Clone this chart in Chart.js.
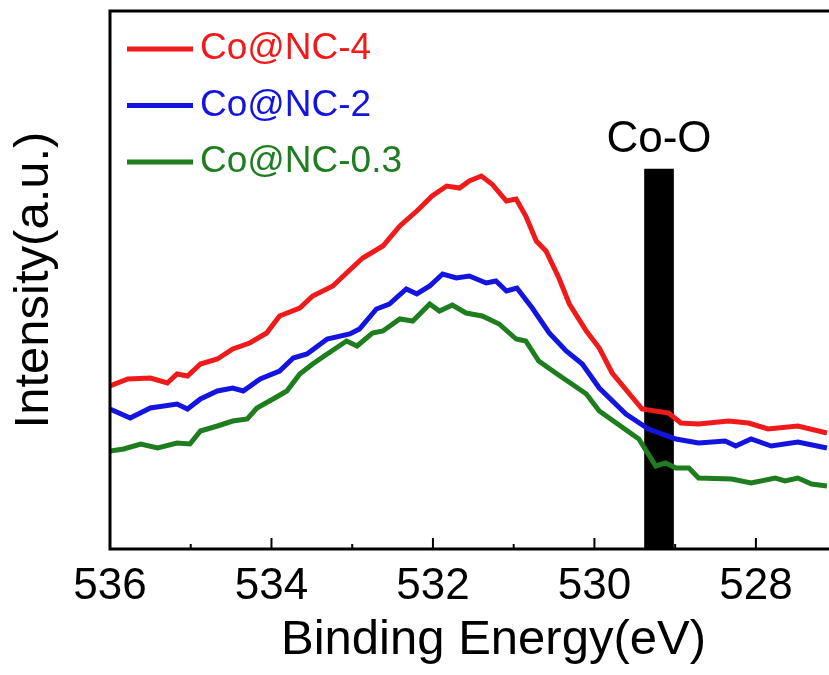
<!DOCTYPE html>
<html>
<head>
<meta charset="utf-8">
<script src="https://cdn.jsdelivr.net/npm/chart.js@4.4.0/dist/chart.umd.min.js"></script>
<style>
  html, body { margin: 0; padding: 0; background: #fff; overflow: hidden; }
  #wrap { width: 829px; height: 675px; overflow: hidden; }
</style>
</head>
<body>
<div id="wrap"><canvas id="xpsChart" width="880" height="675"></canvas></div>
<script>
var seriesNames = ["Co@NC-4", "Co@NC-2", "Co@NC-0.3"];
var seriesColors = ["#f01a1a", "#1414e0", "#1e7d1e"];

// binding energy (eV) / intensity (a.u.)
var energyNC4 = [536.00,535.78,535.50,535.29,535.17,535.04,534.88,534.67,534.48,534.27,534.06,533.90,533.65,533.49,533.24,533.07,532.87,532.62,532.41,532.20,532.01,531.83,531.67,531.55,531.40,531.27,531.09,530.97,530.85,530.72,530.60,530.44,530.31,530.10,529.94,529.78,529.41,529.08,528.93,528.71,528.34,528.09,527.85,527.48,527.12];
var intensityNC4 = [163,170,171,166,175,173,185,190,200,206,216,233,241,253,263,276,291,303,323,338,353,363,361,368,373,365,348,350,333,308,298,271,245,218,201,176,140,136,126,125,128,126,120,123,116];

var energyNC2 = [536.00,535.75,535.50,535.17,535.04,534.88,534.67,534.48,534.35,534.14,533.90,533.73,533.56,533.31,533.03,532.91,532.70,532.54,532.33,532.20,532.04,531.88,531.71,531.55,531.34,531.22,531.09,530.96,530.77,530.56,530.35,530.15,529.94,529.61,529.33,528.99,528.71,528.38,528.25,528.06,527.81,527.48,527.12];
var intensityNC2 = [140,131,141,145,140,150,158,161,158,170,178,191,195,210,215,220,240,245,260,255,263,275,271,273,266,268,258,261,241,216,198,185,161,135,120,110,106,108,103,110,103,107,101];

var energyNC03 = [536.00,535.83,535.62,535.41,535.17,535.01,534.88,534.67,534.48,534.30,534.18,533.98,533.81,533.65,533.49,533.31,533.07,532.94,532.75,532.62,532.41,532.25,532.04,531.92,531.76,531.59,531.39,531.18,530.97,530.85,530.69,530.48,530.28,530.10,529.94,529.45,529.24,529.12,528.99,528.83,528.71,528.30,528.06,527.76,527.64,527.48,527.31,527.12];
var intensityNC03 = [98,100,105,101,106,105,118,123,128,130,141,150,158,175,185,195,208,203,216,218,230,228,245,238,244,236,233,225,210,208,188,176,165,155,138,110,83,86,81,81,71,70,66,71,68,71,65,63];

var xTickValues = [536, 534, 532, 530, 528];
var markerLabel = "Co-O";
var markerEnergy = 529.2;
var markerHeight = 380;

var font = "'Liberation Sans', Arial, sans-serif";

function toPoints(xs, ys) {
  return xs.map(function(x, i) { return { x: x, y: ys[i] }; });
}

function lineDataset(i, xs, ys) {
  return {
    type: "line",
    label: seriesNames[i],
    data: toPoints(xs, ys),
    borderColor: seriesColors[i],
    borderWidth: 5,
    pointRadius: 0,
    tension: 0,
    fill: false,
    order: 1
  };
}

// frame, inward ticks, legend and marker label
var decorations = {
  id: "decorations",
  afterDraw: function(chart) {
    var ctx = chart.ctx
      , area = chart.chartArea
      , xScale = chart.scales.x

    ctx.save();
    ctx.strokeStyle = "#000";
    ctx.lineWidth = 3;
    ctx.strokeRect(area.left, area.top, area.right - area.left, area.bottom - area.top);

    for (var v = 527; v <= 536; v++) {
      var px = xScale.getPixelForValue(v);
      var len = (v % 2 === 0) ? 11 : 5;
      ctx.beginPath();
      ctx.lineWidth = 2;
      ctx.moveTo(px, area.bottom);
      ctx.lineTo(px, area.bottom - len);
      ctx.stroke();
    }

    chart.data.datasets.forEach(function(ds, i) {
      if (ds.type !== "line") return;
      var y = 49 + i * 56.5;
      ctx.beginPath();
      ctx.strokeStyle = ds.borderColor;
      ctx.lineWidth = 5;
      ctx.moveTo(127, y);
      ctx.lineTo(193, y);
      ctx.stroke();
      ctx.fillStyle = ds.borderColor;
      ctx.font = "37px " + font;
      ctx.textAlign = "left";
      ctx.textBaseline = "alphabetic";
      ctx.fillText(ds.label, 200, y + 10);
    });

    var bar = chart.getDatasetMeta(3).data[0];
    ctx.fillStyle = "#000";
    ctx.font = "44px " + font;
    ctx.textAlign = "center";
    ctx.textBaseline = "alphabetic";
    ctx.fillText(chart.data.datasets[3].label, bar.x, bar.y - 17);
    ctx.restore();
  }
};

var ctx = document.getElementById("xpsChart");
var xpsChart = new Chart(ctx, {
  data: {
    datasets: [
      lineDataset(0, energyNC4, intensityNC4),
      lineDataset(1, energyNC2, intensityNC2),
      lineDataset(2, energyNC03, intensityNC03),
      {
        type: "bar",
        label: markerLabel,
        data: [{ x: markerEnergy, y: markerHeight }],
        backgroundColor: "#000",
        barThickness: 29,
        grouped: false,
        order: 10
      }
    ]
  },
  options: {
    responsive: false,
    animation: false,
    devicePixelRatio: 1,
    layout: { padding: { top: 11, left: 0, right: 0, bottom: 0 } },
    plugins: {
      legend: { display: false },
      tooltip: { enabled: false }
    },
    scales: {
      x: {
        type: "linear",
        reverse: true,
        offset: false,
        min: 526.5,
        max: 536,
        grid: { display: false, offset: false },
        border: { display: false },
        ticks: {
          stepSize: 1,
          autoSkip: false,
          maxRotation: 0,
          padding: 3,
          color: "#000",
          font: { family: font, size: 44 },
          callback: function(value) {
            return xTickValues.indexOf(value) >= 0 ? String(value) : "";
          }
        },
        title: {
          display: true,
          text: "Binding Energy(eV)",
          color: "#000",
          font: { family: font, size: 49 },
          padding: { top: 0, bottom: 5 }
        },
        afterFit: function(scale) { scale.height = 126; }
      },
      y: {
        min: 0,
        max: 538,
        grid: { display: false },
        border: { display: false },
        ticks: { display: false },
        title: {
          display: true,
          text: "Intensity(a.u.)",
          color: "#000",
          font: { family: font, size: 49 },
          padding: { top: 5, bottom: 0 }
        },
        afterFit: function(scale) { scale.width = 110; }
      }
    }
  },
  plugins: [decorations]
});
</script>
</body>
</html>
